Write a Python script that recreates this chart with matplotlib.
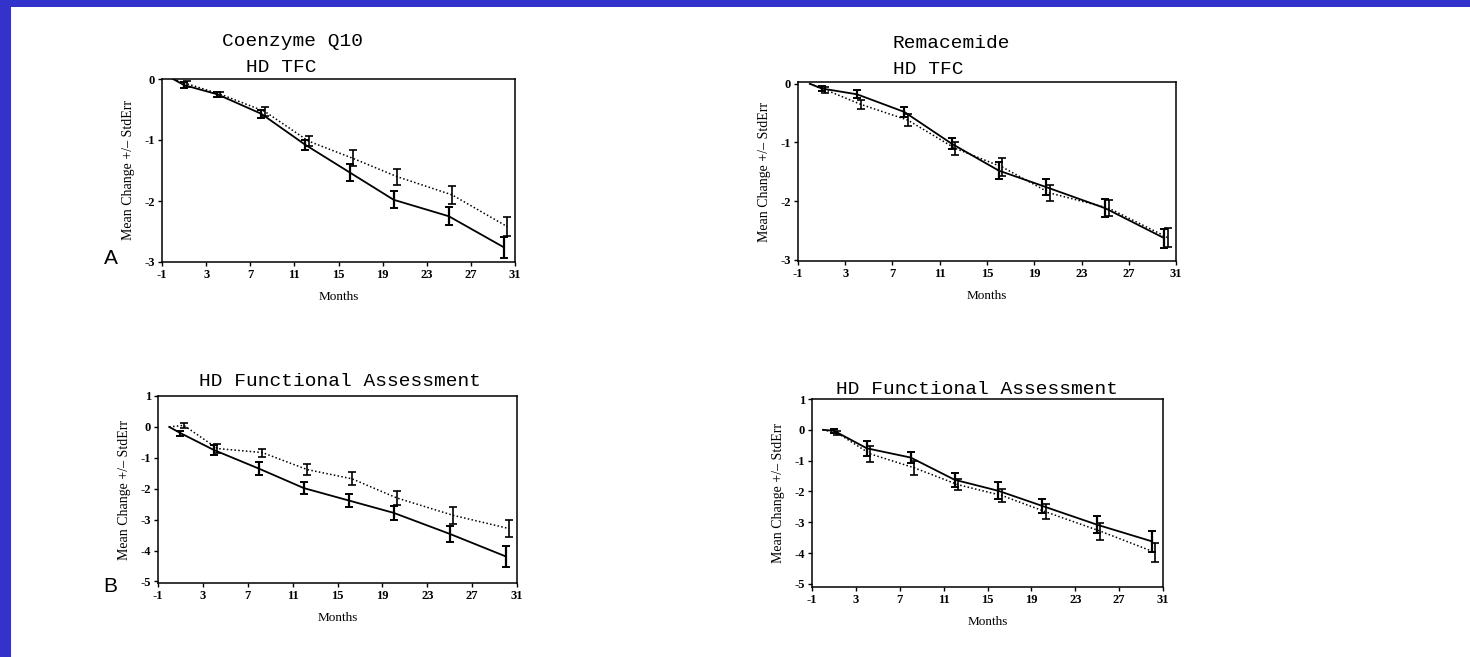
import numpy as np
import matplotlib
matplotlib.use("Agg")
import matplotlib.pyplot as plt
from matplotlib.patches import Rectangle

plt.rcParams["axes.unicode_minus"] = False

# visit months (baseline at 0 is drawn as the line start, no bar)
months = [1, 4, 8, 12, 16, 20, 25, 30]

# total functional capacity, coenzyme Q10 arms
tfc_coq_solid = [-0.10, -0.25, -0.57, -1.08, -1.53, -1.98, -2.25, -2.76]
tfc_coq_solid_se = [0.05, 0.04, 0.07, 0.08, 0.14, 0.14, 0.15, 0.17]
tfc_coq_dotted = [-0.08, -0.25, -0.53, -1.02, -1.30, -1.60, -1.90, -2.42]
tfc_coq_dotted_se = [0.05, 0.04, 0.07, 0.08, 0.13, 0.13, 0.15, 0.15]

# total functional capacity, remacemide arms
tfc_rem_solid = [-0.08, -0.18, -0.48, -1.02, -1.48, -1.76, -2.12, -2.63]
tfc_rem_solid_se = [0.05, 0.07, 0.09, 0.10, 0.15, 0.13, 0.15, 0.16]
tfc_rem_dotted = [-0.10, -0.35, -0.62, -1.10, -1.42, -1.86, -2.12, -2.62]
tfc_rem_dotted_se = [0.05, 0.08, 0.10, 0.11, 0.15, 0.13, 0.14, 0.16]

# functional assessment, coenzyme Q10 arms
fa_coq_solid = [-0.20, -0.75, -1.35, -1.98, -2.38, -2.78, -3.46, -4.19]
fa_coq_solid_se = [0.08, 0.15, 0.20, 0.20, 0.21, 0.23, 0.27, 0.33]
fa_coq_dotted = [0.05, -0.70, -0.83, -1.38, -1.68, -2.30, -2.86, -3.29]
fa_coq_dotted_se = [0.08, 0.15, 0.13, 0.18, 0.21, 0.23, 0.27, 0.27]

# functional assessment, remacemide arms
fa_rem_solid = [-0.03, -0.60, -0.90, -1.62, -1.98, -2.47, -3.08, -3.62]
fa_rem_solid_se = [0.06, 0.25, 0.17, 0.22, 0.28, 0.23, 0.27, 0.33]
fa_rem_dotted = [-0.10, -0.78, -1.23, -1.78, -2.13, -2.66, -3.29, -3.98]
fa_rem_dotted_se = [0.06, 0.25, 0.22, 0.18, 0.20, 0.24, 0.27, 0.31]

xticks = [-1, 3, 7, 11, 15, 19, 23, 27, 31]

W, H = 1470, 657
fig = plt.figure(figsize=(W / 100, H / 100), dpi=100)
fig.patch.set_facecolor("white")

# blue slide frame on the left and top
fig.patches.append(Rectangle((0, 0), 11 / W, 1, transform=fig.transFigure,
                             facecolor="#3333cc", edgecolor="none"))
fig.patches.append(Rectangle((0, 1 - 7 / H), 1, 7 / H, transform=fig.transFigure,
                             facecolor="#3333cc", edgecolor="none"))


def px_axes(left, top, right, bottom):
    return fig.add_axes([left / W, 1 - bottom / H, (right - left) / W, (bottom - top) / H])


def px_text(x, y, s, **kw):
    fig.text(x / W, 1 - y / H, s, **kw)


def panel(ax, solid, solid_se, dotted, dotted_se, ylim, yticks):
    m = np.array(months, dtype=float)
    ax.plot(np.r_[0, m], np.r_[0, solid], color="black", lw=1.3)
    ax.errorbar(m, solid, yerr=solid_se, fmt="none", ecolor="black",
                elinewidth=1.6, capsize=3, capthick=1.4)
    md = m + 0.3
    ax.plot(np.r_[0, md], np.r_[0, dotted], color="black", lw=1.1,
            linestyle=(0, (1, 1.5)))
    ax.errorbar(md, dotted, yerr=dotted_se, fmt="none", ecolor="black",
                elinewidth=1.2, capsize=3, capthick=1.2)
    ax.set_xlim(-1, 31)
    ax.set_ylim(*ylim)
    ax.set_xticks(xticks)
    ax.set_yticks(yticks)
    ax.tick_params(direction="out", length=3, width=1, labelsize=9, pad=2)
    for lab in ax.get_xticklabels() + ax.get_yticklabels():
        lab.set_fontfamily("Liberation Serif")
        lab.set_fontweight("bold")
    for sp in ax.spines.values():
        sp.set_linewidth(1.1)
    ax.set_xlabel("Months", family="Liberation Serif", fontsize=9.5, labelpad=7)
    ax.set_ylabel("Mean Change +/\u2013 StdErr", family="Liberation Serif",
                  fontsize=10, labelpad=7)


ax1 = px_axes(162, 79, 515, 262)
panel(ax1, tfc_coq_solid, tfc_coq_solid_se, tfc_coq_dotted, tfc_coq_dotted_se,
      (-3, 0), [-3, -2, -1, 0])

ax2 = px_axes(798, 82, 1176, 261)
panel(ax2, tfc_rem_solid, tfc_rem_solid_se, tfc_rem_dotted, tfc_rem_dotted_se,
      (-3.02, 0.03), [-3, -2, -1, 0])

ax3 = px_axes(158, 396, 517, 583)
panel(ax3, fa_coq_solid, fa_coq_solid_se, fa_coq_dotted, fa_coq_dotted_se,
      (-5.05, 1.0), [-5, -4, -3, -2, -1, 0, 1])

ax4 = px_axes(812, 399, 1163, 587)
panel(ax4, fa_rem_solid, fa_rem_solid_se, fa_rem_dotted, fa_rem_dotted_se,
      (-5.1, 1.0), [-5, -4, -3, -2, -1, 0, 1])

mono = dict(family="Liberation Mono", fontsize=14, color="black")
px_text(293, 41, "Coenzyme Q10", ha="center", va="center", **mono)
px_text(281, 68, "HD TFC", ha="center", va="center", **mono)
px_text(893, 43, "Remacemide", ha="left", va="center", **mono)
px_text(893, 70, "HD TFC", ha="left", va="center", **mono)
px_text(340, 382, "HD Functional Assessment", ha="center", va="center", **mono)
px_text(977, 390, "HD Functional Assessment", ha="center", va="center", **mono)

px_text(111, 259, "A", ha="center", va="center", family="Liberation Sans", fontsize=15)
px_text(110, 587, "B", ha="center", va="center", family="Liberation Sans", fontsize=15)

fig.savefig("out.png", dpi=100)
